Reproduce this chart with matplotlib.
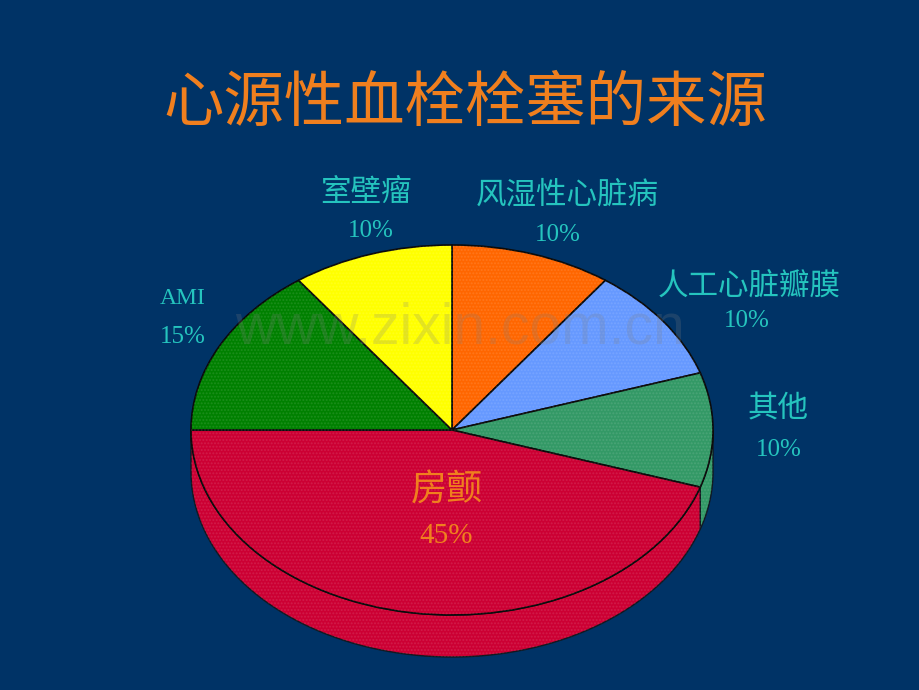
import numpy as np
import matplotlib
matplotlib.use('Agg')
import matplotlib.pyplot as plt

plt.rcParams['font.family'] = ['Noto Sans CJK SC', 'DejaVu Sans']

title = '心源性血栓栓塞的来源'
names = ['风湿性心脏病', '人工心脏瓣膜', '其他', '房颤', 'AMI', '室壁瘤']
shares = [10, 10, 10, 45, 15, 10]
colors = ['#FF6600', '#6699FF', '#339966', '#CC0033', '#008000', '#FFFF00']
watermark = 'www.zixin.com.cn'

BG = '#003366'
CYAN = '#25C4BE'
ORANGE = '#F07F1E'
W, H = 920, 690

# pie ellipse in pixels
cx, cy, rx, ry = 452, 430, 261, 185
depth = 42 / ry

fig = plt.figure(figsize=(W / 100, H / 100), dpi=100, facecolor=BG)
ax = fig.add_axes([(cx - rx) / W, 1 - (cy + ry) / H, 2 * rx / W, 2 * ry / H])

# side wall, only the part of each slice that faces the viewer
edges = 90 - np.cumsum([0] + shares) * 3.6
for i in range(len(shares)):
    a, b = edges[i + 1], edges[i]
    a, b = max(a, -180), min(b, 0)
    if b <= a:
        continue
    t = np.radians(np.linspace(a, b, 80))
    xs = np.r_[np.cos(t), np.cos(t[::-1])]
    ys = np.r_[np.sin(t), np.sin(t[::-1]) - depth]
    ax.fill(xs, ys, facecolor=colors[i], edgecolor='#101820', linewidth=1.0,
            clip_on=False, zorder=1)
    ax.fill(xs, ys, facecolor='none', edgecolor=(1, 1, 1, 0.10), hatch='.....',
            linewidth=0, clip_on=False, zorder=1.5)

wedges, _ = ax.pie(shares, colors=colors, startangle=90, counterclock=False, radius=1,
                   wedgeprops=dict(edgecolor='#0a0a0a', linewidth=1.2, zorder=2))
for w in wedges:
    w.set_clip_on(False)

# the dithered look of the slices
tex, _ = ax.pie(shares, colors=['none'] * len(shares), startangle=90, counterclock=False,
                radius=1, wedgeprops=dict(zorder=3, linewidth=0))
for w, c in zip(tex, colors):
    w.set_hatch('.....')
    w.set_edgecolor(matplotlib.colors.to_rgba('white', 0.10))
    w.set_clip_on(False)

ax.set_aspect('auto')
ax.set_xlim(-1, 1)
ax.set_ylim(-1, 1)


def put(x, y, s, **kw):
    fig.text(x / W, 1 - y / H, s, ha='center', va='center', **kw)


put(465, 104, title, color=ORANGE, fontsize=43.5, fontweight='light', zorder=6)

label_pos = [(567, 195), (749, 286), (778, 409), (447, 490), (183, 299), (366, 192)]
pct_pos = [(558, 235), (747, 321), (779, 450), (446, 536), (183, 337), (371, 231)]
for n, s, lp, pp in zip(names, shares, label_pos, pct_pos):
    c = ORANGE if n == '房颤' else CYAN
    if n == '房颤':
        put(*lp, n, color=c, fontsize=26, fontweight='light', zorder=6)
        put(*pp, f'{s}%', color=c, fontsize=21, family='Liberation Serif', zorder=6)
        continue
    if n == 'AMI':
        put(*lp, n, color=c, fontsize=17, family='Liberation Serif', zorder=6)
    else:
        put(*lp, n, color=c, fontsize=22, fontweight='light', zorder=6)
    put(*pp, f'{s}%', color=c, fontsize=18, family='Liberation Serif', zorder=6)

put(460, 329, watermark, color='#808080', alpha=0.22, fontsize=41,
    family='Liberation Sans', zorder=5)

fig.savefig('out.png', dpi=100, facecolor=BG)
